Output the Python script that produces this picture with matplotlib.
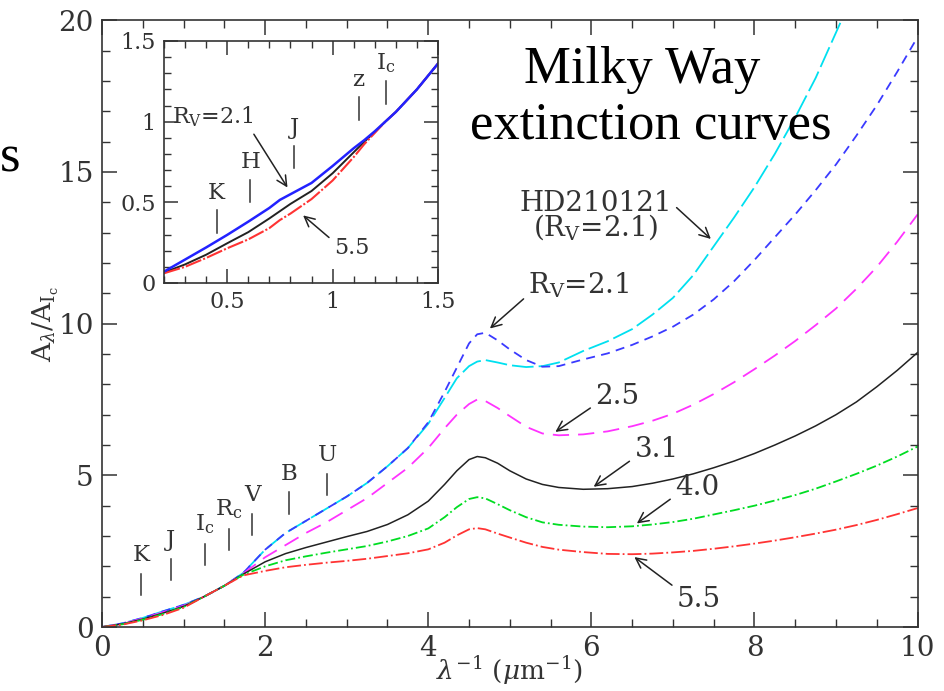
import matplotlib
matplotlib.use("Agg")
import matplotlib.pyplot as plt
from matplotlib.ticker import MultipleLocator, FormatStrFormatter

plt.rcParams.update({
    "font.family": "serif", "font.serif": ["DejaVu Serif"],
    "mathtext.fontset": "dejavuserif", "font.size": 18,
    "axes.linewidth": 1.2, "axes.edgecolor": "#333333",
})
INK = "#333333"

# main panel: inverse wavelength grid and A_lambda / A_Ic for each curve
x_main = [0, 0.25, 0.5, 0.75, 1.0, 1.25, 1.5, 1.73, 2.0, 2.25, 2.5, 2.75, 3.0,
          3.25, 3.5, 3.75, 4.0, 4.2, 4.35, 4.5, 4.6, 4.7, 4.85, 5.0, 5.2, 5.4,
          5.6, 5.9, 6.2, 6.5, 6.75, 7.0, 7.25, 7.5, 7.75, 8.0, 8.25, 8.5, 8.75,
          9.0, 9.25, 9.5, 9.75, 10.0]
hd210121 = [0, 0.12, 0.30, 0.52, 0.73, 1.0, 1.36, 1.78, 2.55, 3.1, 3.5, 3.9, 4.3,
            4.75, 5.3, 5.9, 6.7, 7.55, 8.2, 8.6, 8.75, 8.8, 8.72, 8.63, 8.57, 8.6,
            8.72, 9.1, 9.42, 9.82, 10.3, 10.85, 11.6, 12.55, 13.5, 14.5, 15.6,
            16.8, 18.1, 19.6, 21.1, 22.7, 24.3, 26.0]
rv21 = [0, 0.12, 0.30, 0.52, 0.73, 1.0, 1.36, 1.78, 2.55, 3.1, 3.5, 3.9, 4.3,
        4.75, 5.3, 5.9, 6.75, 7.75, 8.55, 9.35, 9.65, 9.7, 9.45, 9.15, 8.8, 8.58,
        8.6, 8.82, 9.02, 9.3, 9.58, 9.9, 10.3, 10.8, 11.4, 12.1, 12.85, 13.6,
        14.4, 15.25, 16.2, 17.2, 18.3, 19.45]
rv25 = [0, 0.11, 0.28, 0.49, 0.70, 1.0, 1.36, 1.76, 2.3, 2.7, 3.1, 3.45, 3.85,
        4.25, 4.75, 5.25, 5.9, 6.55, 7.0, 7.35, 7.5, 7.45, 7.22, 6.95, 6.6, 6.38,
        6.32, 6.35, 6.45, 6.62, 6.8, 7.03, 7.33, 7.68, 8.07, 8.5, 8.95, 9.43,
        9.95, 10.5, 11.15, 11.87, 12.7, 13.6]
rv31 = [0, 0.10, 0.26, 0.46, 0.68, 1.0, 1.36, 1.74, 2.15, 2.42, 2.62, 2.8, 2.98,
        3.15, 3.38, 3.7, 4.15, 4.7, 5.15, 5.52, 5.62, 5.58, 5.4, 5.15, 4.88, 4.7,
        4.6, 4.54, 4.56, 4.63, 4.74, 4.88, 5.05, 5.25, 5.47, 5.72, 6.0, 6.3,
        6.63, 7.0, 7.42, 7.92, 8.46, 9.05]
rv40 = [0, 0.09, 0.24, 0.43, 0.66, 1.0, 1.36, 1.72, 2.0, 2.2, 2.33, 2.45, 2.56,
        2.67, 2.82, 3.0, 3.25, 3.62, 3.95, 4.22, 4.28, 4.24, 4.05, 3.85, 3.62,
        3.45, 3.37, 3.31, 3.29, 3.32, 3.38, 3.46, 3.57, 3.71, 3.85, 4.0, 4.17,
        4.35, 4.56, 4.8, 5.05, 5.32, 5.62, 5.95]
rv55 = [0, 0.08, 0.22, 0.40, 0.635, 1.0, 1.36, 1.70, 1.85, 1.97, 2.05, 2.12, 2.18,
        2.25, 2.34, 2.43, 2.56, 2.78, 3.02, 3.22, 3.26, 3.22, 3.08, 2.95, 2.78,
        2.64, 2.55, 2.47, 2.41, 2.40, 2.42, 2.46, 2.51, 2.58, 2.66, 2.75, 2.85,
        2.96, 3.08, 3.21, 3.36, 3.53, 3.72, 3.92]

# photometric bands marked in the main panel
bands_main = ["K", "J", "I$_{\\rm c}$", "R$_{\\rm c}$", "V", "B", "U"]
bands_main_x = [0.48, 0.84, 1.26, 1.56, 1.84, 2.29, 2.76]
bands_main_lo = [1.05, 1.55, 2.04, 2.54, 3.03, 3.74, 4.35]

# inset: near-IR close-up
x_ins = [0.2, 0.3, 0.4, 0.5, 0.6, 0.7, 0.75, 0.8, 0.9, 1.0, 1.1, 1.15, 1.2,
         1.25, 1.3, 1.4, 1.5]
ins_rv21 = [0.07, 0.145, 0.22, 0.298, 0.38, 0.465, 0.515, 0.55, 0.62, 0.725,
            0.835, 0.885, 0.94, 1.0, 1.06, 1.2, 1.36]
ins_rv31 = [0.065, 0.115, 0.175, 0.246, 0.315, 0.40, 0.445, 0.49, 0.57, 0.68,
            0.81, 0.875, 0.935, 1.0, 1.06, 1.2, 1.36]
ins_rv55 = [0.06, 0.10, 0.155, 0.215, 0.27, 0.34, 0.39, 0.43, 0.52, 0.635,
            0.78, 0.86, 0.93, 1.0, 1.06, 1.2, 1.36]
bands_ins = ["K", "H", "J", "z", "I$_{\\rm c}$"]
bands_ins_x = [0.45, 0.61, 0.817, 1.123, 1.251]
bands_ins_lo = [0.31, 0.50, 0.71, 1.01, 1.11]

fig = plt.figure(figsize=(9.45, 6.91), dpi=100)
ax = fig.add_axes([0.108, 0.0926, 0.863, 0.878])

ax.plot(x_main, hd210121, color="#00e0f0", lw=1.3, ls=(0, (12, 2.8)))
ax.plot(x_main, rv21, color="#3a3aff", lw=1.3, ls=(0, (5, 3.5)))
ax.plot(x_main, rv25, color="#ff33ff", lw=1.3, ls=(0, (9, 5)))
ax.plot(x_main, rv31, color="#222222", lw=1.1)
ax.plot(x_main, rv40, color="#00dd22", lw=1.3, ls=(0, (5.5, 1.7, 1, 1.7)))
ax.plot(x_main, rv55, color="#ff3333", lw=1.3, ls=(0, (7.7, 1.7, 1, 1.7)))

ax.set_xlim(0, 10)
ax.set_ylim(0, 20)
ax.xaxis.set_major_locator(MultipleLocator(2))
ax.xaxis.set_minor_locator(MultipleLocator(0.5))
ax.yaxis.set_major_locator(MultipleLocator(5))
ax.yaxis.set_minor_locator(MultipleLocator(1))
ax.tick_params(which="both", direction="in", top=True, right=True,
               color=INK, labelsize=20, labelcolor=INK)
ax.tick_params(which="major", length=11, width=1.1, pad=6)
ax.tick_params(which="minor", length=5.5, width=1.0)
ax.set_xlabel(r"$\lambda^{-1}$ ($\mu$m$^{-1}$)", fontsize=19, labelpad=-6,
              color=INK)
ax.set_ylabel(r"A$_\lambda$/A$_{\rm I_c}$", fontsize=19, labelpad=-2, color=INK)

for name, bx, lo in zip(bands_main, bands_main_x, bands_main_lo):
    ax.plot([bx, bx], [lo, lo + 0.7], color=INK, lw=1.1)
    ax.text(bx, lo + 0.95, name, ha="center", va="bottom", fontsize=16.5,
            color=INK)

arrow = dict(arrowstyle="->", color="#222222", lw=1.1, mutation_scale=18)
ax.annotate("HD210121\n(R$_{\\rm V}$=2.1)", xy=(7.49, 12.73), xytext=(6.05, 13.55),
            ha="center", va="center", fontsize=20, linespacing=0.75,
            color=INK, arrowprops=dict(arrow, relpos=(1.0, 0.75)))
ax.annotate("R$_{\\rm V}$=2.1", xy=(4.73, 9.78), xytext=(5.85, 11.25),
            ha="center", va="center", fontsize=20, color=INK,
            arrowprops=dict(arrow, relpos=(0.0, 0.2)))
ax.annotate("2.5", xy=(5.53, 6.38), xytext=(6.32, 7.6), ha="center",
            va="center", fontsize=20, color=INK,
            arrowprops=dict(arrow, relpos=(0.0, 0.2)))
ax.annotate("3.1", xy=(6.0, 4.57), xytext=(6.8, 5.85), ha="center",
            va="center", fontsize=20, color=INK,
            arrowprops=dict(arrow, relpos=(0.0, 0.2)))
ax.annotate("4.0", xy=(6.53, 3.36), xytext=(7.3, 4.6), ha="center",
            va="center", fontsize=20, color=INK,
            arrowprops=dict(arrow, relpos=(0.0, 0.2)))
ax.annotate("5.5", xy=(6.5, 2.36), xytext=(7.32, 0.9), ha="center",
            va="center", fontsize=20, color=INK,
            arrowprops=dict(arrow, relpos=(0.0, 0.9)))

title_font = dict(family="Liberation Serif", fontsize=38)
fig.text(0.68, 0.898, "Milky Way", ha="center", va="center", **title_font)
fig.text(0.689, 0.818, "extinction curves", ha="center", va="center",
         **title_font)
fig.text(0.0, 0.771, "s", ha="left", va="center", **title_font)

# inset
axin = fig.add_axes([0.1735, 0.5905, 0.29, 0.3502])
axin.set_facecolor("white")
axin.plot(x_ins, ins_rv31, color="#222222", lw=1.4)
axin.plot(x_ins, ins_rv55, color="#ff3333", lw=1.5, ls=(0, (8, 1, 1, 1)))
axin.plot(x_ins, ins_rv21, color="#2222ff", lw=1.8)
axin.set_xlim(0.2, 1.5)
axin.set_ylim(0, 1.5)
axin.xaxis.set_major_locator(MultipleLocator(0.5))
axin.xaxis.set_minor_locator(MultipleLocator(0.1))
axin.yaxis.set_major_locator(MultipleLocator(0.5))
axin.yaxis.set_minor_locator(MultipleLocator(0.1))
axin.xaxis.set_major_formatter(FormatStrFormatter("%g"))
axin.yaxis.set_major_formatter(FormatStrFormatter("%g"))
axin.tick_params(which="both", direction="in", top=True, right=True,
                 color=INK, labelsize=16, labelcolor=INK)
axin.tick_params(which="major", length=10, width=1.1, pad=6)
axin.tick_params(which="minor", length=5, width=1.0)

for name, bx, lo in zip(bands_ins, bands_ins_x, bands_ins_lo):
    axin.plot([bx, bx], [lo, lo + 0.14], color=INK, lw=1.1)
    axin.text(bx, lo + 0.18, name, ha="center", va="bottom", fontsize=16.5,
              color=INK)

axin.annotate("R$_{\\rm V}$=2.1", xy=(0.793, 0.577), xytext=(0.24, 1.03),
              ha="left", va="center", fontsize=16, color=INK,
              arrowprops=dict(arrow, relpos=(0.92, 0.2)))
axin.annotate("5.5", xy=(0.85, 0.43), xytext=(1.09, 0.215), ha="center",
              va="center", fontsize=16, color=INK,
              arrowprops=dict(arrow, relpos=(0.0, 0.8)))

fig.savefig("out.png", dpi=100)
